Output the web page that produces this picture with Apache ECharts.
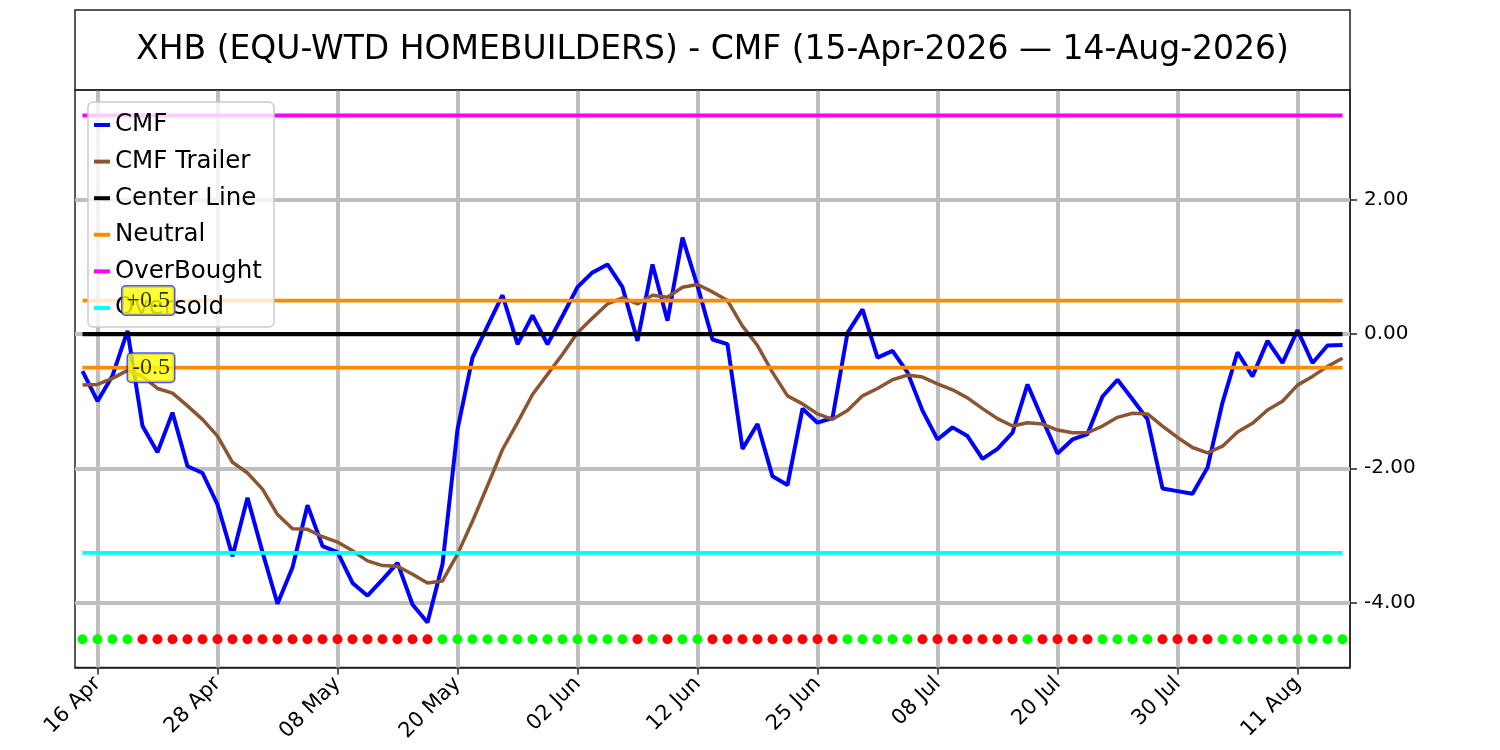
<!DOCTYPE html>
<html><head><meta charset="utf-8">
<script src="https://cdn.jsdelivr.net/npm/echarts@6/dist/echarts.min.js"></script>
<style>html,body{margin:0;padding:0;background:#fff}#c{width:1500px;height:750px}</style>
</head><body><div id="c"></div>
<script>
const dates = ['15 Apr','16 Apr','17 Apr','20 Apr','21 Apr','22 Apr','23 Apr','24 Apr','27 Apr','28 Apr','29 Apr','30 Apr',
 '01 May','04 May','05 May','06 May','07 May','08 May','11 May','12 May','13 May','14 May','15 May','18 May','19 May','20 May','21 May','22 May','26 May','27 May','28 May','29 May',
 '01 Jun','02 Jun','03 Jun','04 Jun','05 Jun','08 Jun','09 Jun','10 Jun','11 Jun','12 Jun','15 Jun','16 Jun','17 Jun','18 Jun','22 Jun','23 Jun','24 Jun','25 Jun','26 Jun','29 Jun','30 Jun',
 '01 Jul','02 Jul','06 Jul','07 Jul','08 Jul','09 Jul','10 Jul','13 Jul','14 Jul','15 Jul','16 Jul','17 Jul','20 Jul','21 Jul','22 Jul','23 Jul','24 Jul','27 Jul','28 Jul','29 Jul','30 Jul','31 Jul',
 '03 Aug','04 Aug','05 Aug','06 Aug','07 Aug','10 Aug','11 Aug','12 Aug','13 Aug','14 Aug'];
const tickDates = ['16 Apr','28 Apr','08 May','20 May','02 Jun','12 Jun','25 Jun','08 Jul','20 Jul','30 Jul','11 Aug'];
const yTicks = [-4, -2, 0, 2];
const cmf = [-0.55,-1.00,-0.62,0.05,-1.37,-1.76,-1.17,-1.97,-2.07,-2.54,-3.31,-2.44,
 -3.25,-4.02,-3.48,-2.55,-3.16,-3.25,-3.71,-3.90,-3.66,-3.41,-4.03,-4.30,-3.43,-1.42,-0.35,0.12,0.58,-0.15,0.28,-0.15,
 0.27,0.70,0.92,1.04,0.70,-0.10,1.04,0.20,1.44,0.72,-0.08,-0.15,-1.71,-1.34,-2.12,-2.25,-1.11,-1.32,-1.25,0.02,0.37,
 -0.35,-0.25,-0.57,-1.14,-1.57,-1.39,-1.52,-1.86,-1.71,-1.47,-0.75,-1.27,-1.78,-1.57,-1.49,-0.93,-0.68,-0.97,-1.27,-2.30,-2.34,-2.38,
 -1.99,-1.02,-0.27,-0.63,-0.10,-0.43,0.06,-0.43,-0.17,-0.16];
const cmfTrailer = [-0.76,-0.75,-0.66,-0.54,-0.63,-0.81,-0.88,-1.07,-1.27,-1.52,-1.91,-2.07,
 -2.31,-2.69,-2.90,-2.91,-3.02,-3.10,-3.23,-3.38,-3.45,-3.46,-3.58,-3.71,-3.68,-3.28,-2.79,-2.26,-1.72,-1.32,-0.90,-0.60,
 -0.30,0.02,0.24,0.45,0.54,0.45,0.58,0.55,0.70,0.74,0.63,0.50,0.12,-0.17,-0.57,-0.92,-1.04,-1.19,-1.27,-1.14,-0.92,
 -0.81,-0.68,-0.61,-0.64,-0.74,-0.83,-0.95,-1.11,-1.26,-1.37,-1.32,-1.34,-1.43,-1.47,-1.47,-1.37,-1.24,-1.18,-1.19,-1.37,-1.54,-1.69,
 -1.77,-1.67,-1.46,-1.33,-1.13,-1.00,-0.76,-0.63,-0.48,-0.36];
// 1 = green dot, 0 = red dot
const signal = [1,1,1,1,0,0,0,0,0,0,0,0,
 0,0,0,0,0,0,0,0,0,0,0,0,1,1,1,1,1,1,1,1,
 1,1,1,1,1,0,1,0,1,1,0,0,0,0,0,0,0,0,0,1,1,
 1,1,1,0,0,0,0,0,0,0,1,0,0,0,0,1,1,1,1,0,0,0,
 0,1,1,1,1,1,1,1,1,1];
const CENTER = 0, NEUTRAL_UP = 0.5, NEUTRAL_DN = -0.5, OVERBOUGHT = 3.26, OVERSOLD = -3.26, SIGNAL_LEVEL = -4.55;
const annotations = [{date:'23 Apr', value:0.5, text:'+0.5'}, {date:'23 Apr', value:-0.5, text:'-0.5'}];
const titleText = 'XHB (EQU-WTD HOMEBUILDERS) - CMF (15-Apr-2026 \u2014 14-Aug-2026)';

const chart = echarts.init(document.getElementById('c'), null, {renderer:'canvas'});
const tickSet = new Set(tickDates);
const flat = v => dates.map(() => v);
function lineSeries(name, data, color, width, z) {
  return {name, type:'line', data, symbol:'none', z: z||2, silent:true,
    lineStyle:{color, width}, itemStyle:{color}, emphasis:{disabled:true}};
}
const option = {
  animation:false,
  backgroundColor:'#ffffff',
  textStyle:{fontFamily:'DejaVu Sans'},
  graphic:[
    {type:'rect', shape:{x:75, y:10, width:1275, height:80}, style:{fill:'none', stroke:'#222', lineWidth:1.5}, z:10},
    {type:'text', x:712.5, y:50, style:{text:titleText, font:'33px "DejaVu Sans"', fill:'#000', textAlign:'center', textVerticalAlign:'middle'}, z:10}
  ],
  grid:{left:75, right:150, top:90, bottom:82.5, show:true, borderColor:'#222', borderWidth:1.5, backgroundColor:'transparent'},
  legend:{
    orient:'vertical', left:88, top:102,
    data:['CMF','CMF Trailer','Center Line','Neutral','OverBought','Oversold'],
    backgroundColor:'rgba(255,255,255,0.8)', borderColor:'#cccccc', borderWidth:1.5, borderRadius:5,
    padding:[10,12,6,6], itemWidth:16, itemHeight:4, itemGap:10.6, icon:'rect', selectedMode:false,
    textStyle:{fontSize:24.5, fontFamily:'DejaVu Sans', color:'#000', lineHeight:26}
  },
  xAxis:{
    type:'category', data:dates, boundaryGap:true,
    axisLine:{show:true, onZero:false, lineStyle:{color:'#222', width:1.5}},
    axisTick:{show:true, alignWithLabel:true, length:7, interval:(i,v)=>tickSet.has(v), lineStyle:{color:'#222', width:1.5}},
    axisLabel:{interval:(i,v)=>tickSet.has(v), rotate:45, margin:13, fontSize:21, color:'#000', fontFamily:'DejaVu Sans'},
    splitLine:{show:false}
  },
  yAxis:{
    type:'value', position:'right', min:-4.97, max:3.64,
    axisLine:{show:true, lineStyle:{color:'#222', width:1.5}},
    axisTick:{show:true, length:7, customValues:yTicks, lineStyle:{color:'#222', width:1.5}},
    axisLabel:{customValues:yTicks, formatter:v=>v.toFixed(2), margin:14, fontSize:20, color:'#000', fontFamily:'DejaVu Sans'},
    splitLine:{show:false}
  },
  series:[
    {name:'_grid', type:'line', data:flat(null), silent:true, z:1, symbol:'none',
      markLine:{z:1, silent:true, animation:false, symbol:['none','none'], label:{show:false},
        lineStyle:{color:'#bfbfbf', width:4, type:'solid'}, emphasis:{disabled:true},
        data: tickDates.map(d=>({xAxis:d})).concat(yTicks.map(v=>({yAxis:v})))}},
    lineSeries('CMF', cmf, '#0000ff', 4),
    lineSeries('CMF Trailer', cmfTrailer, '#8c5531', 3.5),
    lineSeries('Center Line', flat(CENTER), '#000000', 4.3),
    lineSeries('Neutral', flat(NEUTRAL_UP), '#ff8c00', 3.8),
    lineSeries('Neutral', flat(NEUTRAL_DN), '#ff8c00', 3.8),
    lineSeries('OverBought', flat(OVERBOUGHT), '#ff00ff', 3.8),
    lineSeries('Oversold', flat(OVERSOLD), '#00ffff', 3.8),
    {name:'Signal', type:'scatter', data:dates.map(d=>[d, SIGNAL_LEVEL]), symbolSize:10, silent:true, z:3,
      itemStyle:{opacity:1, color:p=>signal[p.dataIndex] ? '#00ff00' : '#ff0000'}},
    {name:'Annot', type:'scatter', data:annotations.map(a=>[a.date, a.value]), symbolSize:1, silent:true, z:10,
      itemStyle:{color:'rgba(0,0,0,0)'},
      label:{show:true, position:'left', distance:0, offset:[2,0],
        formatter:p=>annotations[p.dataIndex].text,
        fontFamily:'Liberation Serif', fontSize:24, color:'#000',
        backgroundColor:'#ffff00', borderColor:'#2a2aff', borderWidth:1.5, borderRadius:3, padding:[3,4,1,4]}}
  ]
};
chart.setOption(option);
</script></body></html>
